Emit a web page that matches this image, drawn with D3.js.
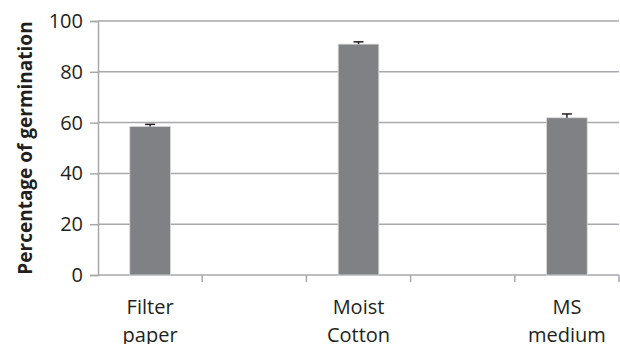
<!DOCTYPE html>
<html>
<head>
<meta charset="utf-8">
<script src="https://cdn.jsdelivr.net/npm/d3@7"></script>
<style>
  html, body { margin: 0; padding: 0; background: #fff; }
  svg { display: block; }
  text { font-family: "Open Sans", "DejaVu Sans", sans-serif; fill: #231f20; }
</style>
</head>
<body>
<svg id="chart" width="620" height="344"></svg>
<script>
// Germination substrate slots along the x axis (empty slots leave gaps between bars)
const slots = ["Filter paper", "gap1", "Moist Cotton", "gap2", "MS medium"];
const categories = ["Filter paper", "Moist Cotton", "MS medium"];
const germination = [58.5, 90.9, 61.9];
const errors = [0.8, 0.9, 1.5];
const yTicks = [0, 20, 40, 60, 80, 100];

const svg = d3.select("#chart");
const margin = { left: 98, right: 1, top: 21, bottom: 69 };
const W = 620, H = 344;

const x = d3.scaleBand().domain(slots).range([margin.left, W - margin.right])
  .paddingInner(0.61).paddingOuter(0.305);
const xSlot = d3.scaleBand().domain(slots).range([margin.left, W - margin.right]);
const y = d3.scaleLinear().domain([0, 100]).range([H - margin.bottom, margin.top]);

// Horizontal gridlines
svg.append("g")
  .selectAll("line")
  .data(yTicks.filter(d => d > 0))
  .join("line")
  .attr("x1", margin.left).attr("x2", W - margin.right)
  .attr("y1", d => y(d)).attr("y2", d => y(d))
  .attr("stroke", "#a7a9ac").attr("stroke-width", 1.5);

// Y axis
const yAxis = svg.append("g")
  .attr("transform", `translate(${margin.left},0)`)
  .call(d3.axisLeft(y).tickValues(yTicks).tickSize(8).tickPadding(7));
yAxis.select(".domain").attr("stroke", "#a7a9ac").attr("stroke-width", 1.5);
yAxis.selectAll(".tick line").attr("stroke", "#a7a9ac").attr("stroke-width", 1.5);
yAxis.selectAll(".tick text").attr("font-size", 20).attr("fill", "#231f20")
  .style("font-family", '"Open Sans", sans-serif');

// X axis baseline with ticks at slot boundaries
const boundaries = slots.map(s => xSlot(s)).concat([xSlot(slots[slots.length - 1]) + xSlot.bandwidth()]);
const xg = svg.append("g");
xg.append("line")
  .attr("x1", margin.left).attr("x2", W - margin.right)
  .attr("y1", y(0)).attr("y2", y(0))
  .attr("stroke", "#a7a9ac").attr("stroke-width", 1.5);
xg.selectAll("line.tk")
  .data(boundaries.slice(1))
  .join("line").attr("class", "tk")
  .attr("x1", d => d).attr("x2", d => d)
  .attr("y1", y(0)).attr("y2", y(0) + 7)
  .attr("stroke", "#a7a9ac").attr("stroke-width", 1.5);

// Bars
const data = categories.map((c, i) => ({ c, v: germination[i], e: errors[i] }));
svg.append("g")
  .selectAll("rect")
  .data(data)
  .join("rect")
  .attr("x", d => x(d.c))
  .attr("width", x.bandwidth())
  .attr("y", d => y(d.v))
  .attr("height", d => y(0) - y(d.v))
  .attr("fill", "#808184")
  .attr("stroke", "#d9d9da").attr("stroke-width", 0.8);

// Error bars (upper whisker only)
const eb = svg.append("g").attr("stroke", "#231f20").attr("stroke-width", 1.5);
eb.selectAll("line.v").data(data).join("line").attr("class", "v")
  .attr("x1", d => x(d.c) + x.bandwidth() / 2).attr("x2", d => x(d.c) + x.bandwidth() / 2)
  .attr("y1", d => y(d.v)).attr("y2", d => y(d.v + d.e));
eb.selectAll("line.c").data(data).join("line").attr("class", "c")
  .attr("x1", d => x(d.c) + x.bandwidth() / 2 - 5).attr("x2", d => x(d.c) + x.bandwidth() / 2 + 5)
  .attr("y1", d => y(d.v + d.e)).attr("y2", d => y(d.v + d.e));

// Category labels, split onto two lines
const lab = svg.append("g")
  .selectAll("text")
  .data(categories)
  .join("text")
  .attr("text-anchor", "middle")
  .attr("font-size", 20)
  .attr("x", d => x(d) + x.bandwidth() / 2)
  .attr("y", 314);
lab.each(function(d) {
  const words = d.split(" ");
  const t = d3.select(this);
  words.forEach((w, i) => {
    t.append("tspan").attr("x", x(d) + x.bandwidth() / 2).attr("dy", i === 0 ? 0 : 28).text(w);
  });
});

// Y axis title
svg.append("text")
  .attr("transform", `translate(32,${(y(0) + y(100)) / 2}) rotate(-90)`)
  .attr("text-anchor", "middle")
  .attr("font-size", 19)
  .attr("font-weight", "bold")
  .text("Percentage of germination");
</script>
</body>
</html>
